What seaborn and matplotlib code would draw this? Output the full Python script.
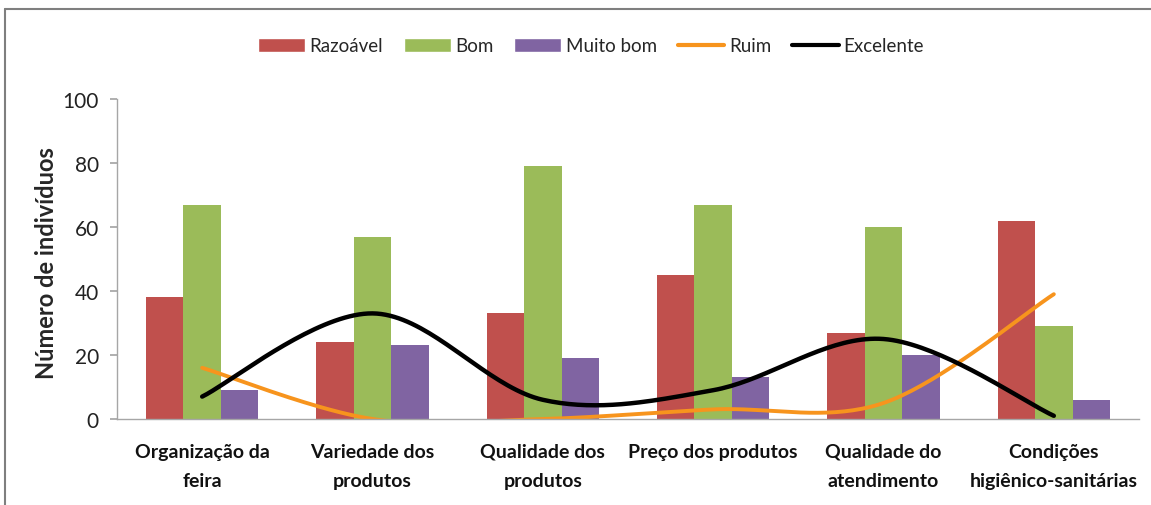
import numpy as np
import pandas as pd
import matplotlib
matplotlib.use("Agg")
import matplotlib.pyplot as plt
from matplotlib.lines import Line2D
from matplotlib.patches import Patch
import seaborn as sns

categories = ["Organização da\nfeira", "Variedade dos\nprodutos", "Qualidade dos\nprodutos",
              "Preço dos produtos", "Qualidade do\natendimento", "Condições\nhigiênico-sanitárias"]
razoavel = [38, 24, 33, 45, 27, 62]
bom = [67, 57, 79, 67, 60, 29]
muito_bom = [9, 23, 19, 13, 20, 6]
ruim = [16, 0, 0, 3, 5, 39]
excelente = [7, 33, 6, 9, 25, 1]
yticks = [0, 20, 40, 60, 80, 100]

bar_series = ["Razoável", "Bom", "Muito bom"]
bar_colors = ["#C0504D", "#9BBB59", "#8064A2"]
c_ruim = "#F7941D"
c_exc = "#000000"

sns.set_theme(style="white")
plt.rcParams['font.family'] = ['Lato', 'DejaVu Sans']

df = pd.DataFrame({
    "cat": categories * 3,
    "serie": [bar_series[0]] * 6 + [bar_series[1]] * 6 + [bar_series[2]] * 6,
    "val": razoavel + bom + muito_bom,
})

W, H = 1151, 506
fig = plt.figure(figsize=(W / 100, H / 100), dpi=100)
ax = fig.add_axes([117 / W, 1 - 420 / H, (1139 - 117) / W, 320 / H])

sns.barplot(data=df, x="cat", y="val", hue="serie", hue_order=bar_series,
            palette=bar_colors, width=0.66, gap=0, saturation=1, legend=False,
            ax=ax, errorbar=None, linewidth=0)


def smooth(vals, n=40):
    # Excel-style smoothed line: cubic Bezier through each point
    p = np.asarray(vals, dtype=float)
    x = np.arange(len(p), dtype=float)
    xs, ys = [], []
    for i in range(len(p) - 1):
        p0 = p[i - 1] if i > 0 else p[i]
        p3 = p[i + 2] if i + 2 < len(p) else p[i + 1]
        x0 = x[i - 1] if i > 0 else x[i]
        x3 = x[i + 2] if i + 2 < len(p) else x[i + 1]
        c1y = p[i] + (p[i + 1] - p0) / 6
        c2y = p[i + 1] - (p3 - p[i]) / 6
        c1x = x[i] + (x[i + 1] - x0) / 6
        c2x = x[i + 1] - (x3 - x[i]) / 6
        t = np.linspace(0, 1, n)
        bx = (1 - t) ** 3 * x[i] + 3 * (1 - t) ** 2 * t * c1x + 3 * (1 - t) * t ** 2 * c2x + t ** 3 * x[i + 1]
        by = (1 - t) ** 3 * p[i] + 3 * (1 - t) ** 2 * t * c1y + 3 * (1 - t) * t ** 2 * c2y + t ** 3 * p[i + 1]
        xs.extend(bx)
        ys.extend(by)
    return np.array(xs), np.array(ys)


xr, yr = smooth(ruim)
xe, ye = smooth(excelente)
sns.lineplot(x=xr, y=yr, sort=False, color=c_ruim, linewidth=2.8, ax=ax, legend=False)
sns.lineplot(x=xe, y=ye, sort=False, color=c_exc, linewidth=3.2, ax=ax, legend=False)

ax.set_xlim(-0.5, 5.5)
ax.set_ylim(0, 100)
ax.set_yticks(yticks)
ax.set_yticklabels([str(v) for v in yticks], fontsize=15)
ax.set_xticks(range(6))
ax.set_xticklabels(categories, fontsize=14, fontweight="bold", linespacing=1.85)
ax.set_xlabel("")
ax.set_ylabel("Número de indivíduos", fontsize=17, fontweight="bold")
ax.yaxis.set_label_coords((47 - 117) / (1139 - 117), 0.49)
ax.yaxis.label.set_va("center")
for s in ["top", "right"]:
    ax.spines[s].set_visible(False)
for s in ["left", "bottom"]:
    ax.spines[s].set_color("#A6A6A6")
    ax.spines[s].set_linewidth(1.0)
ax.tick_params(axis="y", which="both", left=True, length=5, color="#A6A6A6", pad=8, labelcolor="#222222")
ax.tick_params(axis="x", which="both", bottom=False, pad=11, labelcolor="#111111")

handles = [Patch(facecolor=bar_colors[0]), Patch(facecolor=bar_colors[1]), Patch(facecolor=bar_colors[2]),
           Line2D([], [], color=c_ruim, linewidth=3), Line2D([], [], color=c_exc, linewidth=3)]
labels = ["Razoável", "Bom", "Muito bom", "Ruim", "Excelente"]
fig.legend(handles, labels, loc="center", bbox_to_anchor=(591 / W, 1 - 47 / H), ncol=5,
           frameon=False, fontsize=13.5, handlelength=2.5, handletextpad=0.25, columnspacing=1.1,
           handleheight=0.85)

# outer chart frame (left and top edges)
fig.add_artist(Line2D([5 / W, 5 / W], [0, 1 - 10 / H], transform=fig.transFigure,
                      color="#7F7F7F", linewidth=1.5))
fig.add_artist(Line2D([5 / W, 1], [1 - 10 / H, 1 - 10 / H], transform=fig.transFigure,
                      color="#7F7F7F", linewidth=1.5))

fig.savefig("out.png", dpi=100)
